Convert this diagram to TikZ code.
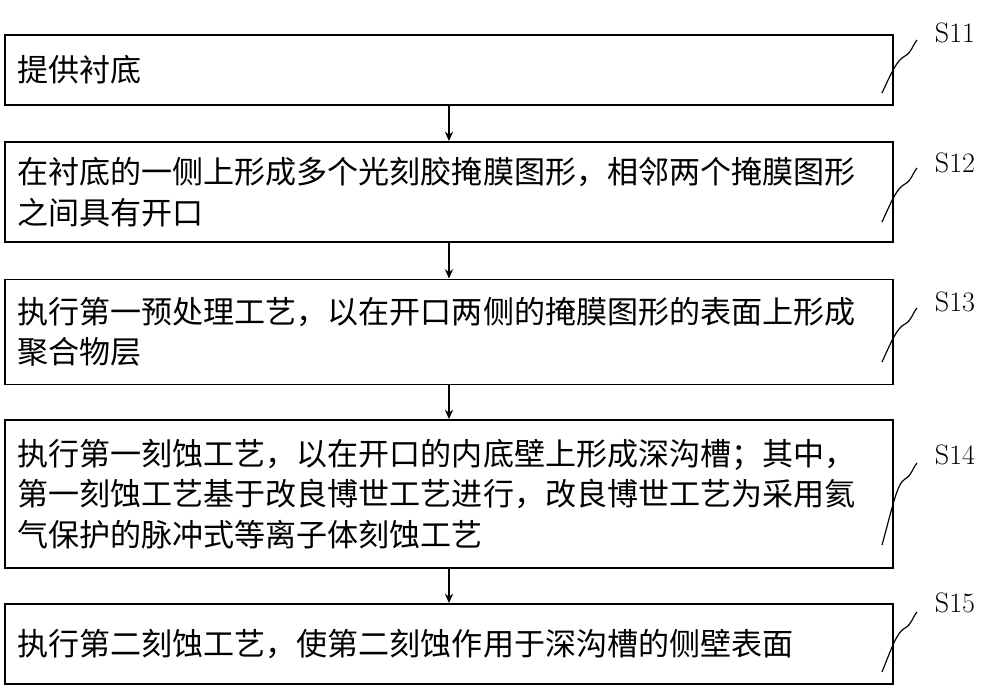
\documentclass[tikz,border=0pt]{standalone}
\usepackage{fontspec}
\newfontfamily\cjk{Noto Sans CJK SC}
\usetikzlibrary{arrows.meta}
\begin{document}
\begin{tikzpicture}[x=0.03cm,y=-0.03cm,
  box/.style={draw,line width=1.6pt,inner sep=0pt,minimum width=26.64cm,text width=25.9cm,align=left,font=\cjk\fontsize{26.5}{34.5}\selectfont},
  arr/.style={-{Stealth[length=8pt,width=7pt]},line width=1.4pt},
  lab/.style={font=\fontsize{24}{26}\selectfont},
  sq/.style={line width=1pt}]
\useasboundingbox (0,0) rectangle (1000,686);
\node[box,minimum height=2.1cm] (b1) at (449,70) {提供衬底};
\node[box,minimum height=3.0cm] (b2) at (449,192) {在衬底的一侧上形成多个光刻胶掩膜图形，相邻两个掩膜图形\\之间具有开口};
\node[box,minimum height=3.15cm] (b3) at (449,332) {执行第一预处理工艺，以在开口两侧的掩膜图形的表面上形成\\聚合物层};
\node[box,minimum height=4.44cm] (b4) at (449,494) {执行第一刻蚀工艺，以在开口的内底壁上形成深沟槽；其中，\\第一刻蚀工艺基于改良博世工艺进行，改良博世工艺为采用氦\\气保护的脉冲式等离子体刻蚀工艺};
\node[box,minimum height=2.4cm] (b5) at (449,644) {执行第二刻蚀工艺，使第二刻蚀作用于深沟槽的侧壁表面};
\draw[arr] (b1.south) -- (b2.north);
\draw[arr] (b2.south) -- (b3.north);
\draw[arr] (b3.south) -- (b4.north);
\draw[arr] (b4.south) -- (b5.north);
\node[lab] (l1) at (955,33) {S11};
\node[lab] (l2) at (955,163) {S12};
\node[lab] (l3) at (955,302) {S13};
\node[lab] (l4) at (955,455) {S14};
\node[lab] (l5) at (955,603) {S15};
\foreach \ys/\ye in {93/40, 222/168, 362/308, 545/463, 672/612}{
  \draw[sq] (882,\ys) .. controls (892,\ys-0.5*\ys+0.5*\ye+5) and (897,\ye+20) .. (905,\ye+16)
            .. controls (912,\ye+12) and (912,\ye+6) .. (917,\ye);
}
\end{tikzpicture}
\end{document}
